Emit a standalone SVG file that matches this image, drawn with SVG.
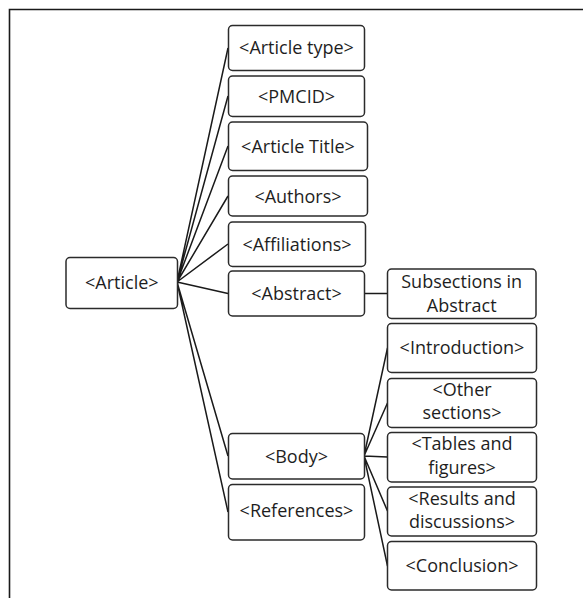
<svg xmlns="http://www.w3.org/2000/svg" width="583" height="598" viewBox="0 0 583 598">
<style>
.box{fill:#fff;stroke:#2b2b2b;stroke-width:1.5}
.t{font-family:"Open Sans","Liberation Sans",Arial,sans-serif;font-size:18px;fill:#1e1e1e;text-anchor:middle}
.c{stroke:#1a1a1a;stroke-width:1.5;fill:none}
.f{stroke:#1a1a1a;stroke-width:1.6;fill:none}
</style>
<rect width="583" height="598" fill="#fff"/>
<path class="f" d="M9.5,598 V9.5 H583"/>
<g id="connectors">
<path class="c" d="M177,282 L228,48 M177,282 L228,96 M177,282 L228,146 M177,282 L228,196 M177,282 L228,244 M177,282 L228,293.5 M177,282 L228,456 M177,282 L228,512"/>
<path class="c" d="M364,293.5 H387.5"/>
<path class="c" d="M364,456 L387.5,348 M364,456 L387.5,403 M364,456 L387.5,457 M364,456 L387.5,511 M364,456 L387.5,566"/>
</g>
<g id="article"><rect class="box" x="66" y="257.5" width="111.5" height="51" rx="4"/><text class="t" x="121.8" y="288.5">&lt;Article&gt;</text></g>
<g id="articletype"><rect class="box" x="228.5" y="25.5" width="136" height="45" rx="4"/><text class="t" x="296.5" y="54">&lt;Article type&gt;</text></g>
<g id="pmcid"><rect class="box" x="228.5" y="76" width="136" height="40.5" rx="4"/><text class="t" x="296.5" y="102.5">&lt;PMCID&gt;</text></g>
<g id="articletitle"><rect class="box" x="228.5" y="122" width="139" height="48.5" rx="4"/><text class="t" x="298" y="152.5">&lt;Article Title&gt;</text></g>
<g id="authors"><rect class="box" x="228.5" y="176" width="139" height="40" rx="4"/><text class="t" x="298" y="202.5">&lt;Authors&gt;</text></g>
<g id="affiliations"><rect class="box" x="228.5" y="222" width="137" height="44.5" rx="4"/><text class="t" x="297" y="250.5">&lt;Affiliations&gt;</text></g>
<g id="abstract"><rect class="box" x="228.5" y="271" width="136" height="45" rx="4"/><text class="t" x="296.5" y="300">&lt;Abstract&gt;</text></g>
<g id="subsections"><rect class="box" x="387.5" y="269" width="148.5" height="49.5" rx="4"/><text class="t" x="461.7" y="288">Subsections in</text><text class="t" x="461.7" y="311.5">Abstract</text></g>
<g id="body"><rect class="box" x="228.5" y="433.5" width="136" height="45.5" rx="4"/><text class="t" x="296.5" y="462.5">&lt;Body&gt;</text></g>
<g id="references"><rect class="box" x="228.5" y="484.5" width="136" height="55.5" rx="4"/><text class="t" x="296.5" y="516.5">&lt;References&gt;</text></g>
<g id="introduction"><rect class="box" x="387.5" y="323.5" width="149" height="49" rx="4"/><text class="t" x="462" y="354">&lt;Introduction&gt;</text></g>
<g id="othersections"><rect class="box" x="387.5" y="378.5" width="149" height="49" rx="4"/><text class="t" x="462" y="396">&lt;Other</text><text class="t" x="462" y="418.5">sections&gt;</text></g>
<g id="tables"><rect class="box" x="387.5" y="432.5" width="149" height="49.5" rx="4"/><text class="t" x="462" y="450">&lt;Tables and</text><text class="t" x="462" y="473.5">figures&gt;</text></g>
<g id="results"><rect class="box" x="387.5" y="487" width="149" height="49" rx="4"/><text class="t" x="462" y="504.5">&lt;Results and</text><text class="t" x="462" y="527.5">discussions&gt;</text></g>
<g id="conclusion"><rect class="box" x="387.5" y="541.5" width="149" height="48.5" rx="4"/><text class="t" x="462" y="572">&lt;Conclusion&gt;</text></g>
</svg>
